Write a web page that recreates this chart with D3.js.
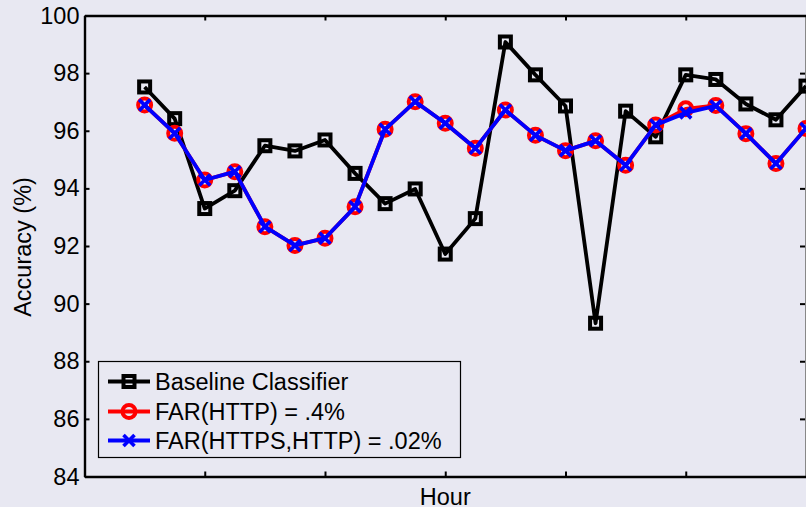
<!DOCTYPE html>
<html>
<head>
<meta charset="utf-8">
<script src="https://cdn.jsdelivr.net/npm/d3@7"></script>
<style>
  html, body { margin: 0; padding: 0; background: #e8e8f2; overflow: hidden; }
  text { font-family: "Liberation Sans", Arial, Helvetica, sans-serif; fill: #000; }
</style>
</head>
<body>
<div id="chart"></div>
<script>
// hour of each sample
var hours = [2, 3, 4, 5, 6, 7, 8, 9, 10, 11, 12, 13, 14, 15, 16, 17, 18, 19, 20, 21, 22, 23, 24];

// accuracy (%) per hour
var baseline = [97.52, 96.42, 93.30, 93.92, 95.48, 95.30, 95.68, 94.52, 93.47, 93.98, 91.72, 92.95,
                99.08, 97.94, 96.86, 89.32, 96.68, 95.79, 97.94, 97.78, 96.93, 96.38, 97.55];
var farHttp  = [96.89, 95.91, 94.29, 94.58, 92.67, 92.02, 92.27, 93.36, 96.05, 97.01, 96.26, 95.39,
                96.72, 95.84, 95.31, 95.65, 94.80, 96.20, 96.76, 96.88, 95.90, 94.86, 96.08];
var farHttps = [96.89, 95.91, 94.29, 94.58, 92.67, 92.02, 92.27, 93.36, 96.05, 97.01, 96.26, 95.39,
                96.72, 95.84, 95.31, 95.65, 94.80, 96.20, 96.62, 96.86, 95.90, 94.86, 96.08];

var xTicks = [4, 8, 12, 16, 20];
var yTicks = [84, 86, 88, 90, 92, 94, 96, 98, 100];
var legendLabels = ["Baseline Classifier", "FAR(HTTP) = .4%", "FAR(HTTPS,HTTP) = .02%"];

(function() {
  var width = 806, height = 507,
      mLeft = 84.5, mRight = 806, mTop = 15.5, mBottom = 476.5,
      fontSize = "23.5px";

  var x = d3.scaleLinear().domain([0, 24]).range([mLeft, mRight]),
      y = d3.scaleLinear().domain([84, 100]).range([mBottom, mTop]);

  var svg = d3.select("#chart").append("svg")
      .attr("width", width)
      .attr("height", height);

  // axes box, MATLAB style ticks pointing in
  function styleAxis(g) {
    g.select(".domain").attr("stroke", "#000").attr("stroke-width", 2.4);
    g.selectAll(".tick line").attr("stroke", "#000").attr("stroke-width", 2);
    g.selectAll(".tick text").style("font-size", fontSize).attr("fill", "#000");
  }

  svg.append("g")
      .attr("transform", "translate(" + mLeft + ",0)")
      .call(d3.axisLeft(y).tickValues(yTicks).tickSizeInner(-5).tickSizeOuter(0).tickPadding(5))
      .call(styleAxis);

  var rAxis = svg.append("g")
      .attr("transform", "translate(" + (mRight - 1) + ",0)")
      .call(d3.axisRight(y).tickValues(yTicks).tickSizeInner(-5).tickSizeOuter(0).tickFormat(""))
      .call(styleAxis);
  rAxis.select(".domain").attr("stroke", "#888").attr("stroke-width", 1);

  svg.append("g")
      .attr("transform", "translate(0," + mBottom + ")")
      .call(d3.axisBottom(x).tickValues(xTicks).tickSizeInner(-5).tickSizeOuter(0).tickFormat(""))
      .call(styleAxis);

  svg.append("g")
      .attr("transform", "translate(0," + mTop + ")")
      .call(d3.axisTop(x).tickValues(xTicks).tickSizeInner(-5).tickSizeOuter(0).tickFormat(""))
      .call(styleAxis);

  // labels
  svg.append("text")
      .attr("x", x(12))
      .attr("y", 505)
      .attr("text-anchor", "middle")
      .style("font-size", fontSize)
      .text("Hour");

  svg.append("text")
      .attr("transform", "translate(31,247) rotate(-90)")
      .attr("text-anchor", "middle")
      .style("font-size", fontSize)
      .text("Accuracy (%)");

  var line = d3.line()
      .x(function(d) { return x(d[0]); })
      .y(function(d) { return y(d[1]); });

  function pairs(vals) { return hours.map(function(h, i) { return [h, vals[i]]; }); }

  // marker drawers
  function square(g, cx, cy) {
    g.append("rect").attr("x", cx - 5.5).attr("y", cy - 5.5).attr("width", 11).attr("height", 11)
      .attr("fill", "none").attr("stroke", "#000").attr("stroke-width", 4);
  }
  function circle(g, cx, cy) {
    g.append("circle").attr("cx", cx).attr("cy", cy).attr("r", 6.5)
      .attr("fill", "none").attr("stroke", "#ff0000").attr("stroke-width", 4);
  }
  function cross(g, cx, cy) {
    var s = 5.5;
    g.append("path")
      .attr("d", "M" + (cx - s) + "," + (cy - s) + "L" + (cx + s) + "," + (cy + s) +
                 "M" + (cx - s) + "," + (cy + s) + "L" + (cx + s) + "," + (cy - s))
      .attr("stroke", "#0000ff").attr("stroke-width", 3.6).attr("fill", "none");
  }

  var series = [
    { vals: baseline, color: "#000", width: 3.8, mark: square },
    { vals: farHttp, color: "#ff0000", width: 3.8, mark: circle },
    { vals: farHttps, color: "#0000ff", width: 3.8, mark: cross }
  ];

  series.forEach(function(s) {
    var g = svg.append("g");
    g.append("path")
        .datum(pairs(s.vals))
        .attr("d", line)
        .attr("fill", "none")
        .attr("stroke", s.color)
        .attr("stroke-width", s.width)
        .attr("stroke-linejoin", "round");
    pairs(s.vals).forEach(function(d) { s.mark(g, x(d[0]), y(d[1])); });
  });

  // legend
  var lg = svg.append("g");
  lg.append("rect")
      .attr("x", 98.5).attr("y", 361.5).attr("width", 362).attr("height", 96)
      .attr("fill", "#e8e8f2").attr("stroke", "#000").attr("stroke-width", 1.2);

  var rowY = [381.5, 411.5, 440.5];
  series.forEach(function(s, i) {
    lg.append("line")
        .attr("x1", 108).attr("x2", 150).attr("y1", rowY[i]).attr("y2", rowY[i])
        .attr("stroke", s.color).attr("stroke-width", s.width);
    s.mark(lg, 129, rowY[i]);
    lg.append("text")
        .attr("x", 155).attr("y", rowY[i])
        .attr("dy", "0.36em")
        .style("font-size", fontSize)
        .text(legendLabels[i]);
  });
})();
</script>
</body>
</html>
